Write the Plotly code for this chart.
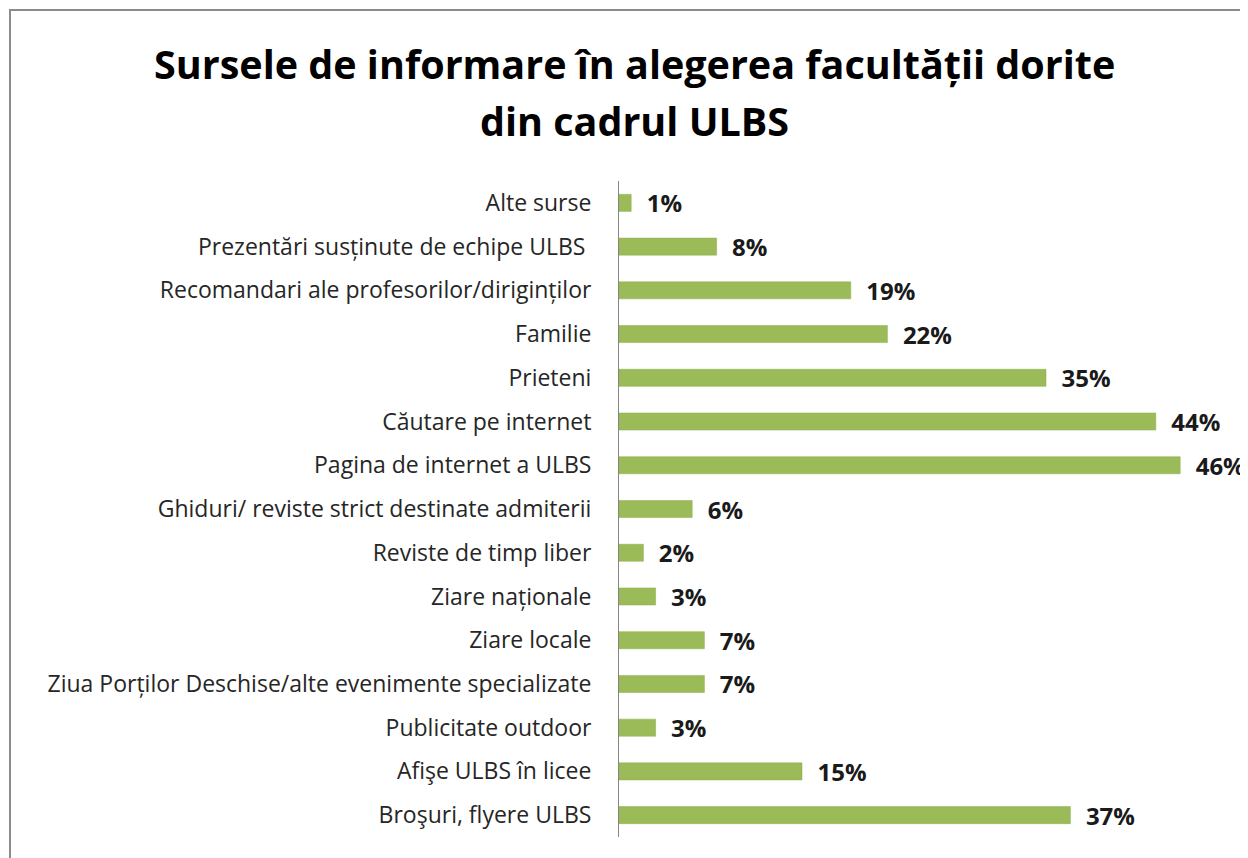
import plotly.graph_objects as go

categories = [
    "Broşuri, flyere ULBS",
    "Afişe ULBS în licee",
    "Publicitate outdoor",
    "Ziua Porților Deschise/alte evenimente specializate",
    "Ziare locale",
    "Ziare naționale",
    "Reviste de timp liber",
    "Ghiduri/ reviste strict destinate admiterii",
    "Pagina de internet a ULBS",
    "Căutare pe internet",
    "Prieteni",
    "Familie",
    "Recomandari ale profesorilor/diriginților",
    "Prezentări susținute de echipe ULBS ",
    "Alte surse",
]
values = [37, 15, 3, 7, 7, 3, 2, 6, 46, 44, 35, 22, 19, 8, 1]

title_lines = ["Sursele de informare în alegerea facultății dorite", "din cadrul ULBS"]

OFF = 8  # default page body margin
W, H = 1248 - OFF, 858 - OFF
L, R, T, B = 619 - OFF, 19, 181 - OFF, 21
pw, ph = W - L - R, H - T - B

fig = go.Figure()
fig.add_trace(go.Bar(
    y=categories, x=values, orientation="h",
    marker=dict(color="#9BBB59", line=dict(color="#8AAE48", width=0.5)),
    text=[f"{v}%" for v in values],
    texttemplate="  %{text}",
    textposition="outside",
    constraintext="none",
    cliponaxis=False,
    textfont=dict(family="Open Sans", size=24, color="#1a1a1a", weight="bold"),
    width=0.39,
    hoverinfo="skip",
))

fig.update_layout(
    width=W, height=H,
    margin=dict(l=L, r=R, t=T, b=B),
    paper_bgcolor="white", plot_bgcolor="white",
    showlegend=False,
    font=dict(family="Open Sans", color="#262626"),
    xaxis=dict(range=[0, 50], visible=False, fixedrange=True),
    yaxis=dict(
        categoryorder="array", categoryarray=categories,
        showline=True, linecolor="#868686", linewidth=1,
        ticks="", ticklabelstandoff=22,
        tickfont=dict(family="Open Sans", size=23, color="#262626"),
        showgrid=False, range=[-0.5, 14.5],
    ),
)

# chart border (extends beyond the visible page at right and bottom)
fig.add_shape(type="rect", xref="paper", yref="paper",
              x0=(10 - 619) / pw, x1=(1248 + 40 - 619) / pw,
              y0=-(B + 40) / ph, y1=(858 - 21 - 10) / ph,
              line=dict(color="#8c8c8c", width=2), fillcolor="rgba(0,0,0,0)", layer="below")

for line, yc in zip(title_lines, [64, 121]):
    fig.add_annotation(
        xref="paper", yref="paper",
        x=(634 - 619) / pw, y=(858 - 21 - yc) / ph,
        text=f"<b>{line}</b>",
        showarrow=False, xanchor="center", yanchor="middle",
        font=dict(family="Open Sans", size=39.5, color="black"),
    )

fig.write_html("out.html")
